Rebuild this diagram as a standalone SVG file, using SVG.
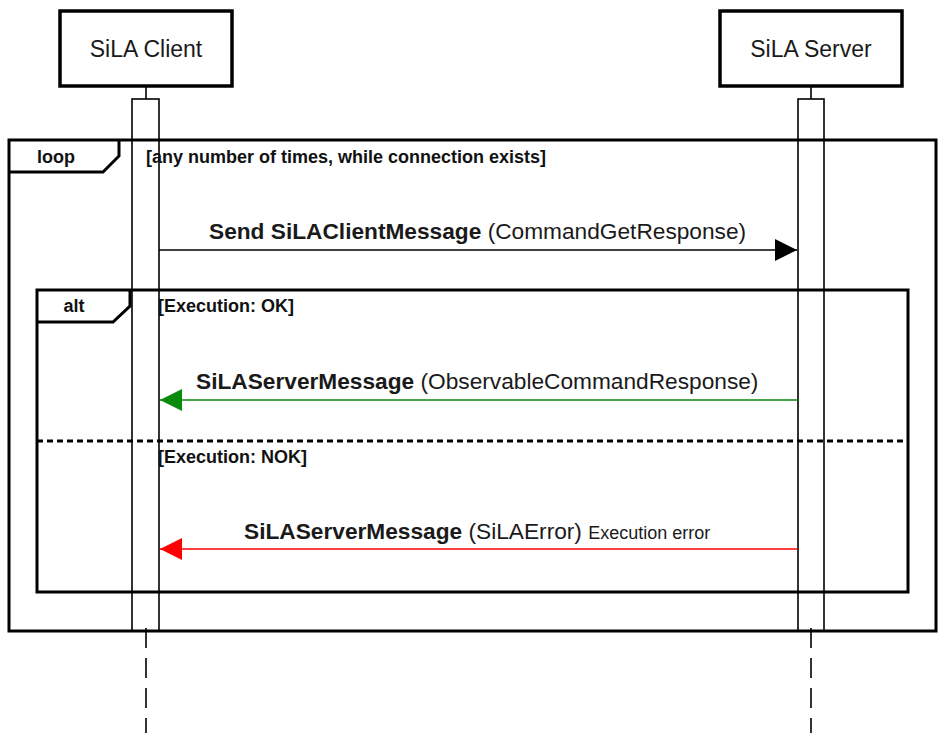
<svg xmlns="http://www.w3.org/2000/svg" width="939" height="733" viewBox="0 0 939 733">
<style>
.box{fill:#fff;stroke:#000;stroke-width:3.5}
.act{fill:#fff;stroke:#000;stroke-width:1.6}
.frame{fill:none;stroke:#000;stroke-width:3}
.life{fill:none;stroke:#000;stroke-width:1.6}
.t{font-family:"Liberation Sans",Arial,sans-serif;fill:#1a1a1a}
.lbl{font-family:"Liberation Sans",Arial,sans-serif;font-weight:bold;font-size:18px;fill:#111}
</style>
<defs>
<marker id="ab" markerWidth="22" markerHeight="22" refX="22" refY="11" orient="auto" markerUnits="userSpaceOnUse"><path d="M0,0 L22,11 L0,22 Z" fill="#000"/></marker>
<marker id="ag" markerWidth="22" markerHeight="22" refX="22" refY="11" orient="auto" markerUnits="userSpaceOnUse"><path d="M0,0 L22,11 L0,22 Z" fill="#0a8a0a"/></marker>
<marker id="ar" markerWidth="22" markerHeight="22" refX="22" refY="11" orient="auto" markerUnits="userSpaceOnUse"><path d="M0,0 L22,11 L0,22 Z" fill="#ff0000"/></marker>
</defs>
<rect width="939" height="733" fill="#fff"/>
<g id="client">
<rect class="box" x="60" y="11" width="172" height="75"/>
<text class="t" x="146" y="57" font-size="23" text-anchor="middle">SiLA Client</text>
<line class="life" x1="146" y1="86" x2="146" y2="99"/>
<rect class="act" x="132" y="99" width="27" height="532"/>
<line class="life" x1="146" y1="628" x2="146" y2="733" stroke-dasharray="20 10"/>
</g>
<g id="server">
<rect class="box" x="720" y="11" width="182" height="75"/>
<text class="t" x="811" y="57" font-size="23" text-anchor="middle">SiLA Server</text>
<line class="life" x1="811" y1="86" x2="811" y2="99"/>
<rect class="act" x="798" y="99" width="26" height="532"/>
<line class="life" x1="811" y1="628" x2="811" y2="733" stroke-dasharray="20 10"/>
</g>
<g id="loop">
<rect class="frame" x="9" y="140" width="927" height="491"/>
<path class="frame" d="M9,172 L103,172 L119,156 L119,140"/>
<text class="lbl" x="56" y="163" text-anchor="middle">loop</text>
<text class="lbl" x="146" y="163">[any number of times, while connection exists]</text>
</g>
<g id="alt">
<rect class="frame" x="37" y="290" width="871" height="302"/>
<path class="frame" d="M37,322 L113,322 L130,306 L130,290"/>
<text class="lbl" x="74" y="312" text-anchor="middle">alt</text>
<text class="lbl" x="158" y="312">[Execution: OK]</text>
<line x1="37" y1="441" x2="908" y2="441" stroke="#000" stroke-width="3" stroke-dasharray="6 4"/>
<text class="lbl" x="158" y="463">[Execution: NOK]</text>
</g>
<g id="connectors">
<line x1="159" y1="250" x2="797" y2="250" stroke="#000" stroke-width="1.6" marker-end="url(#ab)"/>
<text class="t" x="209" y="239" font-size="22.7"><tspan font-weight="bold">Send SiLAClientMessage</tspan> (CommandGetResponse)</text>
<line x1="798" y1="400" x2="160" y2="400" stroke="#0a8a0a" stroke-width="1.6" marker-end="url(#ag)"/>
<text class="t" x="196" y="389" font-size="22.7"><tspan font-weight="bold">SiLAServerMessage</tspan> (ObservableCommandResponse)</text>
<line x1="798" y1="549" x2="160" y2="549" stroke="#ff0000" stroke-width="1.6" marker-end="url(#ar)"/>
<text class="t" x="244" y="539" font-size="22.7"><tspan font-weight="bold">SiLAServerMessage</tspan> (SiLAError) <tspan font-size="18">Execution error</tspan></text>
</g>
</svg>
